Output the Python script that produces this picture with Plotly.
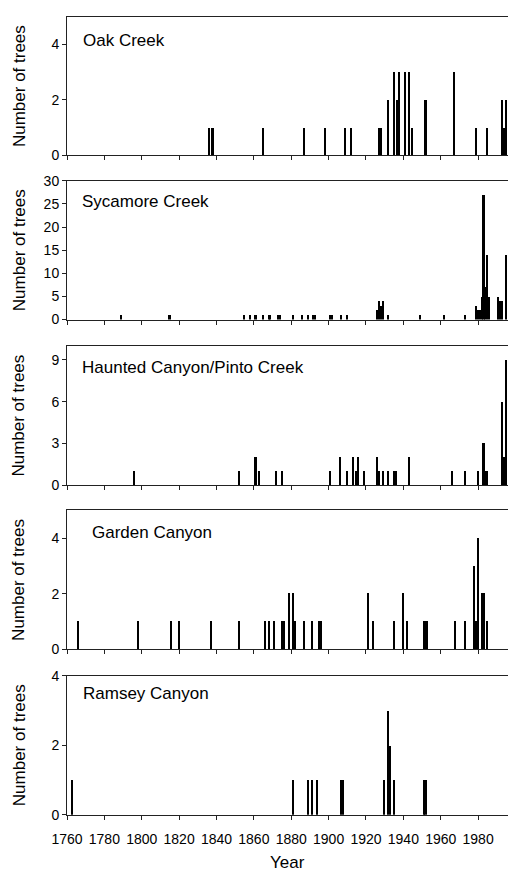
import plotly.graph_objects as go

# ---- data (years, number of trees) ----
oak_years = [1836, 1838, 1865, 1887, 1898, 1909, 1912, 1927, 1928, 1932, 1935, 1937, 1938,
             1941, 1943, 1945, 1952, 1967, 1979, 1985, 1993, 1994, 1995]
oak_counts = [1, 1, 1, 1, 1, 1, 1, 1, 1, 2, 3, 2, 3,
              3, 3, 1, 2, 3, 1, 1, 2, 1, 2]

syc_years = [1789, 1815, 1855, 1858, 1861, 1865, 1868, 1869, 1873, 1874, 1881, 1886, 1889,
             1892, 1893, 1901, 1902, 1907, 1910, 1926, 1927, 1928, 1929, 1932, 1949, 1962,
             1973, 1979, 1980, 1981, 1982, 1983, 1984, 1985, 1986, 1991, 1992, 1993, 1995]
syc_counts = [1, 1, 1, 1, 1, 1, 1, 1, 1, 1, 1, 1, 1,
              1, 1, 1, 1, 1, 1, 2, 4, 3, 4, 1, 1, 1,
              1, 3, 2, 2, 5, 27, 7, 14, 5, 5, 4, 4, 14]

hau_years = [1796, 1852, 1861, 1863, 1872, 1875, 1901, 1906, 1910, 1913, 1915, 1916, 1919,
             1926, 1927, 1929, 1932, 1935, 1936, 1943, 1966, 1973, 1980, 1983, 1984, 1985,
             1993, 1994, 1995]
hau_counts = [1, 1, 2, 1, 1, 1, 1, 2, 1, 2, 1, 2, 1,
              2, 1, 1, 1, 1, 1, 2, 1, 1, 1, 3, 1, 1,
              6, 2, 9]

gar_years = [1766, 1798, 1816, 1820, 1837, 1852, 1866, 1868, 1871, 1875, 1876, 1879, 1881,
             1882, 1887, 1891, 1895, 1896, 1921, 1924, 1935, 1940, 1942, 1951, 1952, 1953,
             1968, 1973, 1978, 1979, 1980, 1982, 1983, 1985]
gar_counts = [1, 1, 1, 1, 1, 1, 1, 1, 1, 1, 1, 2, 2,
              1, 1, 1, 1, 1, 2, 1, 1, 2, 1, 1, 1, 1,
              1, 1, 3, 1, 4, 2, 2, 1]

ram_years = [1763, 1881, 1889, 1891, 1894, 1907, 1908, 1930, 1932, 1933, 1935, 1951, 1952]
ram_counts = [1, 1, 1, 1, 1, 1, 1, 1, 3, 2, 1, 1, 1]

site_names = ["Oak Creek", "Sycamore Creek", "Haunted Canyon/Pinto Creek",
              "Garden Canyon", "Ramsey Canyon"]
y_ranges = [[0, 5], [0, 30], [0, 10], [0, 5], [0, 4]]
y_ticks = [[0, 2, 4], [0, 5, 10, 15, 20, 25, 30], [0, 3, 6, 9], [0, 2, 4], [0, 2, 4]]
x_ticks = list(range(1760, 1981, 20))

series = [(oak_years, oak_counts), (syc_years, syc_counts), (hau_years, hau_counts),
          (gar_years, gar_counts), (ram_years, ram_counts)]

# ---- layout geometry (pixels) ----
W, H = 508, 879
ML = 67
panel_px = [(9, 150), (176, 317.3), (344.3, 486), (511.7, 653.3), (680, 821.7)]
label_dy = [24, 21, 22, 23, 18]
label_x = [81, 80, 80, 90, 81]

FONT = "Liberation Sans, Arial, sans-serif"
fig = go.Figure()
layout = dict(
    width=W, height=H,
    margin=dict(l=ML, r=0, t=0, b=0),
    plot_bgcolor="white", paper_bgcolor="white",
    showlegend=False, bargap=0,
    font=dict(family=FONT, color="black"),
)
annotations = []
pw = W - ML

for i, ((yrs, cnt), name) in enumerate(zip(series, site_names)):
    n = "" if i == 0 else str(i + 1)
    fig.add_trace(go.Bar(x=yrs, y=cnt, width=0.85,
                         marker=dict(color="black", line=dict(width=0)),
                         xaxis="x" + n, yaxis="y" + n))
    top, bot = panel_px[i]
    d0 = 1 - bot / H
    d1 = 1 - top / H
    layout["xaxis" + n] = dict(
        domain=[0, 1], anchor="y" + n, range=[1760, 1996],
        tickvals=x_ticks, showticklabels=(i == 4),
        ticks="outside", ticklen=4, tickcolor="#222",
        ticklabelstandoff=7,
        showline=True, linecolor="#222", linewidth=1, mirror=True,
        showgrid=False, zeroline=False,
        tickfont=dict(size=14, family=FONT),
    )
    layout["yaxis" + n] = dict(
        domain=[d0, d1], anchor="x" + n, range=y_ranges[i],
        tickvals=y_ticks[i], ticks="outside", ticklen=4, tickcolor="#222",
        showline=True, linecolor="#222", linewidth=1,
        showgrid=False, zeroline=False,
        tickfont=dict(size=14, family=FONT),
    )
    annotations.append(dict(
        text=name, xref="paper", yref="paper",
        x=(label_x[i] - ML) / pw, y=1 - (top + label_dy[i]) / H,
        xanchor="left", yanchor="middle", showarrow=False,
        font=dict(size=17, family=FONT, color="black"),
    ))
    annotations.append(dict(
        text="Number of trees", xref="paper", yref="paper",
        x=(19 - ML) / pw, y=1 - (top + bot) / 2 / H, textangle=-90,
        xanchor="center", yanchor="middle", showarrow=False,
        font=dict(size=17, family=FONT, color="black"),
    ))

annotations.append(dict(
    text="Year", xref="paper", yref="paper",
    x=(287.5 - ML) / pw, y=1 - 870 / H, xanchor="center", yanchor="middle",
    showarrow=False, font=dict(size=17, family=FONT, color="black"),
))
layout["annotations"] = annotations
fig.update_layout(**layout)
fig.write_html("out.html")
